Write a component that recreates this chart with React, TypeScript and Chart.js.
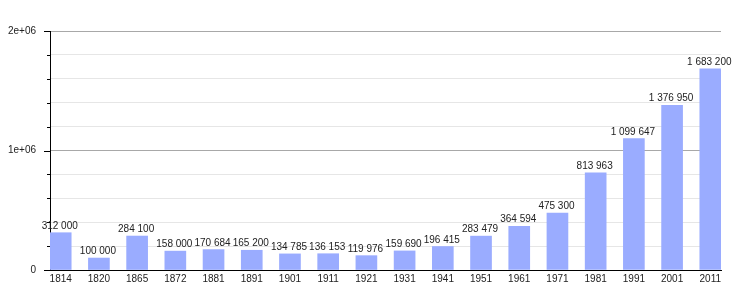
import React, { useEffect, useRef } from "react";
import { Chart, registerables } from "chart.js";

Chart.register(...registerables);

const years = ["1814", "1820", "1865", "1872", "1881", "1891", "1901", "1911", "1921", "1931", "1941", "1951", "1961", "1971", "1981", "1991", "2001", "2011"];
const population = [312000, 100000, 284100, 158000, 170684, 165200, 134785, 136153, 119976, 159690, 196415, 283479, 364594, 475300, 813963, 1099647, 1376950, 1683200];
const yTickValues = [0, 200000, 400000, 600000, 800000, 1000000, 1200000, 1400000, 1600000, 1800000, 2000000];

const fmt = (v: number) => String(v).replace(/\B(?=(\d{3})+(?!\d))/g, " ");
const isMajor = (v: number) => v % 1000000 === 0;

export default function App() {
  const ref = useRef<HTMLCanvasElement>(null);
  useEffect(() => {
    if (!ref.current) return;
    Chart.defaults.font.family = '"Liberation Sans", Arial, sans-serif';
    Chart.defaults.font.size = 10;
    Chart.defaults.color = "#222";

    const labelPlugin = {
      id: "barLabels",
      afterDatasetsDraw(chart: any) {
        const ctx = chart.ctx;
        const meta = chart.getDatasetMeta(0);
        ctx.save();
        ctx.font = '10px "Liberation Sans", Arial, sans-serif';
        ctx.fillStyle = "#222";
        ctx.textAlign = "center";
        ctx.textBaseline = "alphabetic";
        meta.data.forEach((el: any, i: number) => {
          ctx.fillText(fmt(population[i]), el.x - 1, el.y - 4);
        });
        ctx.restore();
      },
    };

    const tickPlugin = {
      id: "yTicks",
      afterDraw(chart: any) {
        const ctx = chart.ctx;
        const y = chart.scales.y;
        const left = chart.chartArea.left;
        ctx.save();
        ctx.strokeStyle = "#000";
        ctx.lineWidth = 1;
        yTickValues.forEach((v) => {
          const py = Math.round(y.getPixelForValue(v)) + 0.5;
          const len = isMajor(v) ? 6 : 3;
          ctx.beginPath();
          ctx.moveTo(left - len, py);
          ctx.lineTo(left, py);
          ctx.stroke();
        });
        ctx.restore();
      },
    };

    const chart = new Chart(ref.current, {
      type: "bar",
      data: {
        datasets: [
          {
            data: population.map((v, i) => ({ x: i, y: v })),
            backgroundColor: "#9aacff",
            borderWidth: 0,
            barThickness: 21,
          },
        ],
      },
      options: {
        animation: false,
        responsive: false,
        layout: { padding: { top: 31, right: 29, left: 0, bottom: 0 } },
        plugins: { legend: { display: false }, tooltip: { enabled: false } },
        scales: {
          x: {
            type: "linear",
            offset: false,
            min: -0.28,
            max: 17.28,
            afterBuildTicks: (scale: any) => {
              scale.ticks = years.map((_, i) => ({ value: i }));
            },
            afterFit: (scale: any) => {
              scale.height = 30;
            },
            grid: { display: false, drawTicks: false, offset: false },
            border: { display: true, color: "#000", width: 1 },
            ticks: {
              padding: 3,
              autoSkip: false,
              maxRotation: 0,
              callback: (v: any) => years[Math.round(Number(v))] ?? "",
            },
          },
          y: {
            min: 0,
            max: 2000000,
            afterBuildTicks: (scale: any) => {
              scale.ticks = yTickValues.map((v) => ({ value: v }));
            },
            afterFit: (scale: any) => {
              scale.width = 50;
            },
            grid: {
              drawTicks: false,
              color: (c: any) => (c.tick && isMajor(c.tick.value) ? "#a8a8a8" : "#e6e6e6"),
            },
            border: { display: true, color: "#000", width: 1 },
            ticks: {
              padding: 14,
              callback: (v: any) => {
                const n = Number(v);
                if (!isMajor(n)) return "";
                if (n === 0) return "0";
                return n.toExponential().replace(/e\+(\d)$/, "e+0$1");
              },
            },
          },
        },
      },
      plugins: [labelPlugin, tickPlugin],
    } as any);
    return () => chart.destroy();
  }, []);

  return (
    <div style={{ position: "absolute", left: 0, top: 0, width: 750, height: 300, background: "#fff" }}>
      <canvas ref={ref} width={750} height={300} />
    </div>
  );
}
